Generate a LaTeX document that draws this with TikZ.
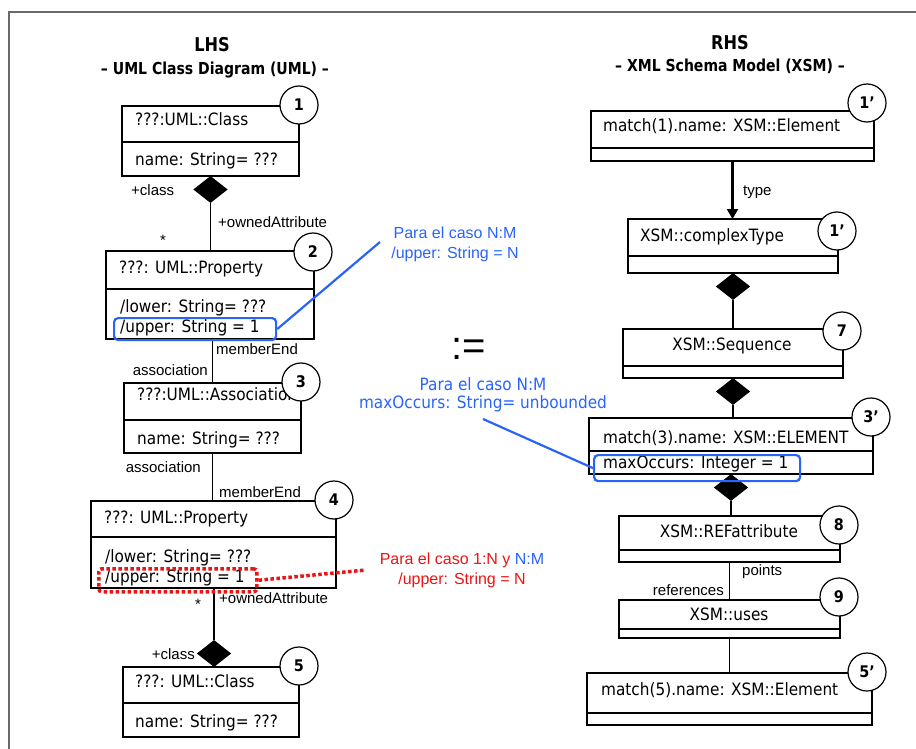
\documentclass[tikz,border=0pt]{standalone}
\usepackage{fontspec}
\setmainfont{Liberation Sans}
\newfontfamily\lucida{DejaVu Sans}[FakeStretch=0.9]
\newfontfamily\lucidatitle{DejaVu Sans}[FakeStretch=0.85]
\usepackage{xcolor}
\usetikzlibrary{arrows.meta}
\usetikzlibrary{shapes.geometric}

\definecolor{noteblue}{RGB}{40,100,250}
\definecolor{notered}{RGB}{235,20,20}
\definecolor{framegray}{RGB}{105,105,105}

\tikzset{
  classframe/.style={draw, line width=1.2pt, inner sep=0pt, outer sep=0pt, anchor=north west},
  classtext/.style={font=\lucida\fontsize{17}{20}\selectfont, inner sep=0pt, anchor=base west},
  centertext/.style={classtext, anchor=base},
  tag/.style={circle, draw, fill=white, line width=1.2pt, minimum size=38pt, inner sep=0pt,
    font=\lucida\bfseries\fontsize{16}{16}\selectfont},
  comp/.style={diamond, draw, fill=black, line width=1pt, minimum width=33pt, minimum height=26pt, inner sep=0pt},
  link/.style={line width=1.2pt},
  role/.style={font=\fontsize{15}{16}\selectfont, inner sep=0pt},
  headline/.style={font=\lucidatitle\bfseries\fontsize{19}{22}\selectfont, anchor=base},
  subline/.style={font=\lucidatitle\bfseries\fontsize{16.5}{20}\selectfont, anchor=base},
  hlblue/.style={draw=noteblue, line width=2.2pt, rounded corners=4pt, inner sep=0pt, anchor=north west},
  reddots/.style={draw=notered, line width=3.5pt, dash pattern=on 3.5pt off 2.5pt},
  hlred/.style={reddots, rounded corners=3pt, inner sep=0pt, anchor=north west},
}

% name, left, top, right, divider, bottom
\newcommand{\umlclass}[6]{%
  \node[classframe, minimum width={#4-#2}, minimum height={#6-#3}] (#1) at (#2,#3) {};
  \draw[link] (#2,#5) -- (#4,#5);
}

\begin{document}
\begin{tikzpicture}[x=1pt,y=-1pt]
\useasboundingbox (0,0) rectangle (916,749);
\draw[framegray, line width=1.5pt] (9,749) -- (9,12) -- (916,12);

% titles
\node[headline] (lhs) at (212,52) {LHS};
\node[subline] (lhssub) at (215,75) {– UML Class Diagram (UML) –};
\node[headline] (rhs) at (730,50) {RHS};
\node[subline] (rhssub) at (730,72) {– XML Schema Model (XSM) –};

%% left hand side
\umlclass{b1}{122}{106}{299}{142}{176}
\node[classtext] (b1n) at (135,126) {???:UML::Class};
\node[classtext] (b1a) at (135,166) {name: String= ???};

\umlclass{b2}{106}{251}{314}{289}{339}
\node[classtext] (b2n) at (119,273) {???: UML::Property};
\node[classtext] (b2a) at (120,312) {/lower: String= ???};
\node[classtext] (b2b) at (120,332) {/upper: String = 1};

\umlclass{b3}{124}{383}{301}{420}{453}
\node[classtext] (b3n) at (137,400) {???:UML::Association};
\node[classtext] (b3a) at (137,444) {name: String= ???};

\umlclass{b4}{91}{501}{336}{537}{588}
\node[classtext] (b4n) at (104,523) {???: UML::Property};
\node[classtext] (b4a) at (105,562) {/lower: String= ???};
\node[classtext] (b4b) at (105,582) {/upper: String = 1};

\umlclass{b5}{123}{667}{299}{703}{737}
\node[classtext] (b5n) at (135,687) {???: UML::Class};
\node[classtext] (b5a) at (135,727) {name: String= ???};

\node[comp, anchor=north] (d1) at (b1.south) {};
\node[comp, anchor=south] (d5) at (214,667) {};

\draw[link] (d1.south) -- (d1.south |- b2.north);
\draw[link] (b3.north |- b2.south) -- (b3.north);
\draw[link] (b3.south) -- (b3.south |- b4.north);
\draw[link] (d5.north |- b4.south) -- (d5.north);

\node[role, anchor=base west] (r1) at (131,196) {+class};
\node[role, anchor=base west] (r2) at (218,227) {+ownedAttribute};
\node[role] (r3) at (163,240) {*};
\node[role, anchor=base west] (r4) at (216,354) {memberEnd};
\node[role, anchor=base east] (r5) at (208,375) {association};
\node[role, anchor=base east] (r6) at (201,472) {association};
\node[role, anchor=base west] (r7) at (219,497) {memberEnd};
\node[role] (r8) at (198,604) {*};
\node[role, anchor=base west] (r9) at (219,603) {+ownedAttribute};
\node[role, anchor=base east] (r10) at (195,659) {+class};

\node[tag] (c1) at (299,105) {1};
\node[tag] (c2) at (313,252) {2};
\node[tag] (c3) at (301,382) {3};
\node[tag] (c4) at (334,500) {4};
\node[tag] (c5) at (299,666) {5};

%% right hand side
\umlclass{r1b}{591}{111}{874}{148}{161}
\node[classtext] (r1n) at (603,132) {match(1).name: XSM::Element};

\umlclass{r2b}{628}{219}{838}{256}{273}
\node[classtext] (r2n) at (640,241) {XSM::complexType};

\umlclass{r7b}{623}{329}{843}{366}{378}
\node[centertext] (r7n) at (732,350) {XSM::Sequence};

\umlclass{r3b}{589}{418}{873}{451}{474}
\node[classtext] (r3n) at (603,443) {match(3).name: XSM::ELEMENT};
\node[classtext] (r3a) at (603,468) {maxOccurs: Integer = 1};

\umlclass{r8b}{619}{516}{840}{550}{562}
\node[centertext] (r8n) at (729,537) {XSM::REFattribute};

\umlclass{r9b}{619}{600}{840}{629}{638}
\node[centertext] (r9n) at (729,620) {XSM::uses};

\umlclass{r5b}{587}{673}{872}{713}{725}
\node[classtext] (r5n) at (601,695) {match(5).name: XSM::Element};

\node[comp, anchor=north] (d2) at (r2b.south) {};
\node[comp, anchor=north] (d3) at (r7b.south) {};
\node[comp, anchor=north] (d4) at (r3b.south) {};

\draw[line width=2.2pt, -{Triangle[length=10pt,width=11pt]}] (r1b.south) -- (r1b.south |- r2b.north);
\draw[link] (d2.south) -- (d2.south |- r7b.north);
\draw[link] (d3.south) -- (d3.south |- r3b.north);
\draw[link] (d4.south) -- (d4.south |- r8b.north);
\draw[link] (r8b.south) -- (r8b.south |- r9b.north);
\draw[link] (r9b.south) -- (r9b.south |- r5b.north);

\node[role, anchor=base west] (t1) at (743,195) {type};
\node[role, anchor=base west] (t2) at (742,575) {points};
\node[role, anchor=base east] (t3) at (724,595) {references};

\node[tag] (k1) at (867,103) {1’};
\node[tag] (k2) at (837,231) {1’};
\node[tag] (k7) at (842,331) {7};
\node[tag] (k3) at (871,417) {3’};
\node[tag] (k8) at (839,525) {8};
\node[tag] (k9) at (839,597) {9};
\node[tag] (k5) at (867,672) {5’};

\node[font=\fontsize{40}{40}\selectfont] (assign) at (469,349) {:=};

%% notes (anchor=base sits on the last line)
\node[hlblue, minimum width=162pt, minimum height=22pt] (up2) at (113,317) {};
\coordinate (up2tip) at (380,242);
\draw[noteblue, line width=2.2pt] (up2.east) -- (up2tip);
\node[font=\fontsize{16}{20}\selectfont, text=noteblue, align=center, anchor=base] (note2) at (455,258)
  {Para el caso N:M\\/upper: String = N};

\node[hlblue, minimum width=206pt, minimum height=26pt] (maxo) at (593,454) {};
\coordinate (maxotip) at (483,419);
\draw[noteblue, line width=2.2pt] (maxo.west) -- (maxotip);
\node[font=\lucida\fontsize{17}{18}\selectfont, text=noteblue, align=center, anchor=base] (note3) at (483,408)
  {Para el caso N:M\\maxOccurs: String= unbounded};

\node[hlred, minimum width=158pt, minimum height=23pt] (up4) at (97,567) {};
\coordinate (up4tip) at (366,570);
\draw[reddots] (up4.east) -- (up4tip);
\node[font=\fontsize{16}{20}\selectfont, text=notered, align=center, anchor=base] (note4) at (462,584)
  {Para el caso 1:N y \textcolor{noteblue}{N:M}\\/upper: String = N};
\end{tikzpicture}
\end{document}
